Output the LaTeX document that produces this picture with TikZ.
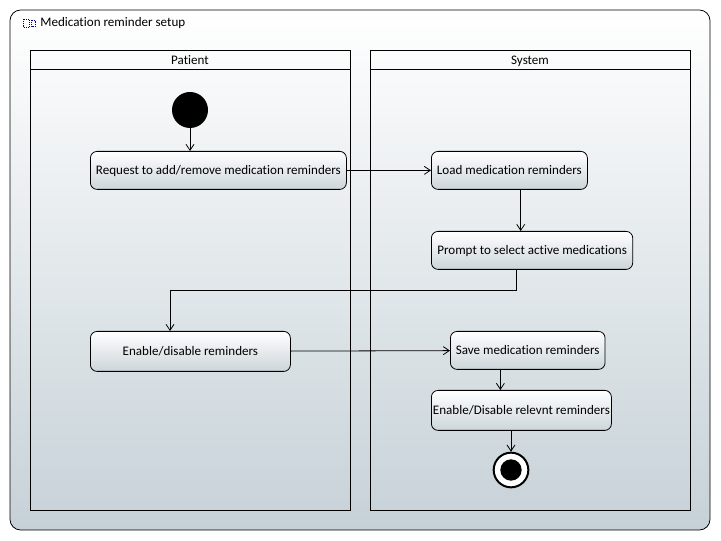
\documentclass[tikz,border=0pt]{standalone}
\usepackage{fontspec}
\setmainfont{Carlito}[Ligatures={NoCommon}]
\usepackage{xcolor}
\definecolor{umlgrey}{HTML}{C6D1D7}
\definecolor{actgrey}{HTML}{CCD5DA}
\usepackage{tikz}
\usetikzlibrary{arrows.meta,positioning}

\begin{document}
\begin{tikzpicture}[x=0.75pt,y=-0.75pt,>={Straight Barb[length=4.5pt,width=6pt]},semithick,font=\fontsize{9.8}{11}\selectfont]
            \tikzstyle{flow}=[->,line width=0.6pt]
            \tikzstyle{action}=[draw,rounded corners=5pt,top color=white,bottom color=actgrey,line width=0.6pt,inner sep=0pt,text depth=0.5pt,anchor=north west]
            \tikzstyle{lane}=[draw,line width=0.6pt]
            \tikzstyle{lanename}=[anchor=base]

            \useasboundingbox (0,0) rectangle (721,541);
            % frame and lanes
            \shade[top color=white,bottom color=umlgrey,draw,line width=0.6pt,rounded corners=8pt] (10,10) rectangle (710,530);
            \node[anchor=base west,inner sep=0pt] (title) at (40,27) {Medication reminder setup};
            \draw[blue!60!black,densely dotted,line width=0.4pt] (23,19) rectangle (29,27) (31.5,20) rectangle (35.5,26);
            \draw[lane] (30,50) rectangle (350,510) (30,69) -- (350,69);
            \draw[lane] (370,50) rectangle (690,510) (370,69) -- (690,69);
            \node[lanename] (patient) at (190,65) {Patient};
            \node[lanename] (system)  at (530,65) {System};

            % actions
            \node[circle,fill=black,minimum size=27pt,inner sep=0pt] (init) at (190,110) {};
            \node[action,minimum width=192pt,minimum height=28.5pt] (req)    at (90,151)  {Request to add/remove medication reminders};
            \node[action,minimum width=117pt,minimum height=28.5pt] (load)   at (431,151) {Load medication reminders};
            \node[action,minimum width=151pt,minimum height=28.5pt] (prompt) at (431,231) {Prompt to select active medications};
            \node[action,minimum width=150pt,minimum height=30pt]   (enable) at (90,331)  {Enable/disable reminders};
            \node[action,minimum width=116pt,minimum height=28.5pt] (save)   at (450,331) {Save medication reminders};
            \node[action,minimum width=135pt,minimum height=30pt]   (relev)  at (431,390) {Enable/Disable relevnt reminders};
            \node[circle,draw,fill=white,line width=1.5pt,minimum size=26pt,inner sep=0pt] (final) at (511,470) {};
            \node[circle,fill=black,minimum size=16pt,inner sep=0pt] at (final) {};

            % flows
            \draw[flow] (init) -- (init |- req.north);
            \draw[flow] (req) -- (load);
            \draw[flow] ([xshift=8.5pt]load.south) -- ([xshift=8.5pt]load.south |- prompt.north);
            \draw[flow] ([xshift=-12pt]prompt.south) |- (170,290) -- (enable.north -| 170,0);
            \draw[flow] (enable) -- (save);
            \draw[flow] ([xshift=-20.5pt]save.south) -- ([xshift=-20.5pt]save.south |- relev.north);
            \draw[flow] (final |- relev.south) -- (final);

        \end{tikzpicture}
\end{document}
